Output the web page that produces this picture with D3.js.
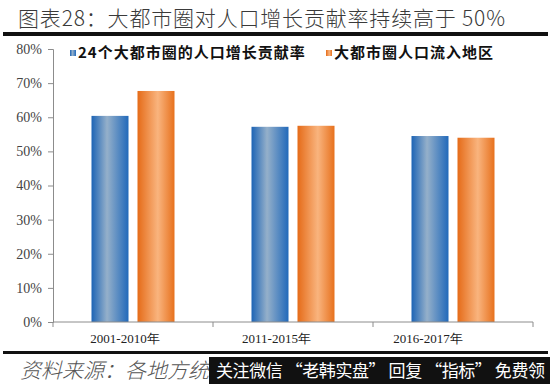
<!DOCTYPE html>
<html lang="zh">

<head>
  <meta charset="UTF-8">
  <title>图表28</title>
  <script src="https://d3js.org/d3.v7.min.js"></script>
  <style>
    html,
    body {
      padding: 0;
      margin: 0;
      background: #fff;
    }

    svg {
      display: block;
    }
  </style>
</head>

<body>
  <script>
    const width = 550;
    const height = 384;

    // data
    const categories = ["2001-2010年", "2011-2015年", "2016-2017年"];
    const seriesNames = ["24个大都市圈的人口增长贡献率", "大都市圈人口流入地区"];
    const contribution = [0.604, 0.572, 0.545];
    const inflowRegions = [0.677, 0.575, 0.540];
    const yTicks = [0, 0.1, 0.2, 0.3, 0.4, 0.5, 0.6, 0.7, 0.8];

    const series = [contribution, inflowRegions];

    const plot = { left: 53, right: 533, top: 49, bottom: 322 };

    const svg = d3.select("body").append("svg")
      .attr("width", width)
      .attr("height", height);

    // gradients for the bars
    const defs = svg.append("defs");
    const grads = [
      { id: "gBlue", stops: [["0%", "#1d64b5"], ["42%", "#95b0ca"], ["100%", "#2169ba"]] },
      { id: "gOrange", stops: [["0%", "#e56b18"], ["55%", "#f9b47e"], ["100%", "#e7711d"]] }
    ];
    grads.forEach(g => {
      const lg = defs.append("linearGradient").attr("id", g.id)
        .attr("x1", "0%").attr("x2", "100%").attr("y1", "0%").attr("y2", "0%");
      g.stops.forEach(s => lg.append("stop").attr("offset", s[0]).attr("stop-color", s[1]));
    });

    // title
    svg.append("text")
      .attr("x", 18)
      .attr("y", 26)
      .attr("font-family", "'Noto Sans CJK SC', sans-serif")
      .attr("font-size", 21)
      .attr("font-weight", 300)
      .attr("fill", "#3a3a3a")
      .attr("textLength", 487)
      .text("图表28：大都市圈对人口增长贡献率持续高于 50%");

    svg.append("rect").attr("x", 3).attr("y", 32).attr("width", 545).attr("height", 4).attr("fill", "#111");
    svg.append("rect").attr("x", 3).attr("y", 351).attr("width", 545).attr("height", 3).attr("fill", "#111");

    // scales
    const x0 = d3.scaleBand().domain(categories).range([plot.left, plot.right]).padding(0);
    const x1 = d3.scaleBand().domain(d3.range(series.length))
      .range([0, x0.bandwidth()]).paddingInner(0.1957).paddingOuter(0.837);
    const y = d3.scaleLinear().domain([0, 0.8]).range([plot.bottom, plot.top]);

    // y axis
    const yAxis = svg.append("g")
      .attr("transform", `translate(${plot.left},0)`)
      .call(d3.axisLeft(y).tickValues(yTicks).tickFormat(d3.format(".0%")).tickSize(5).tickPadding(6));
    yAxis.select(".domain").attr("stroke", "#8c8c8c");
    yAxis.selectAll(".tick line").attr("stroke", "#8c8c8c");
    yAxis.selectAll("text")
      .attr("font-family", "'Liberation Serif', serif")
      .attr("font-size", 14)
      .attr("fill", "#444");

    // bars
    const groups = svg.append("g").selectAll("g")
      .data(categories)
      .join("g")
      .attr("transform", d => `translate(${x0(d)},0)`);

    groups.selectAll("rect")
      .data((c, i) => series.map((s, k) => ({ k, v: s[i] })))
      .join("rect")
      .attr("x", d => x1(d.k))
      .attr("width", x1.bandwidth())
      .attr("y", d => y(d.v))
      .attr("height", d => y(0) - y(d.v))
      .attr("fill", d => `url(#${grads[d.k].id})`);

    // x axis with ticks at category boundaries
    const xAxis = svg.append("g").attr("transform", `translate(0,${plot.bottom})`);
    xAxis.append("line")
      .attr("x1", plot.left).attr("x2", plot.right)
      .attr("stroke", "#8c8c8c");
    const bounds = categories.map(c => x0(c)).concat([x0.range()[1]]);
    xAxis.selectAll("line.tk")
      .data(bounds)
      .join("line")
      .attr("class", "tk")
      .attr("x1", d => d).attr("x2", d => d)
      .attr("y1", 0).attr("y2", 5)
      .attr("stroke", "#8c8c8c");

    // category labels (sit a bit left of the band centres in the original)
    const labelX = d3.scalePoint().domain(categories).range([125, 428]);
    xAxis.selectAll("text")
      .data(categories)
      .join("text")
      .attr("x", d => labelX(d))
      .attr("y", 21)
      .attr("text-anchor", "middle")
      .attr("font-family", "'Liberation Serif', serif")
      .attr("font-size", 13)
      .attr("fill", "#222")
      .text(d => d);

    // legend
    const legendPos = [70, 326];
    const legend = svg.append("g").selectAll("g")
      .data(seriesNames)
      .join("g")
      .attr("transform", (d, i) => `translate(${legendPos[i]},49)`);
    legend.append("rect")
      .attr("width", 6).attr("height", 6).attr("y", 1)
      .attr("fill", (d, i) => `url(#${grads[i].id})`);
    legend.append("text")
      .attr("x", 8)
      .attr("y", 9)
      .attr("font-family", "'Noto Sans CJK SC', sans-serif")
      .attr("font-weight", "bold")
      .attr("font-size", 15)
      .attr("letter-spacing", 1)
      .attr("fill", "#111")
      .text(d => d);

    // source line and overlay strip
    svg.append("text")
      .attr("x", 20)
      .attr("y", 378)
      .attr("font-family", "'Noto Sans CJK SC', sans-serif")
      .attr("font-style", "italic")
      .attr("font-weight", 300)
      .attr("font-size", 21)
      .attr("fill", "#555")
      .text("资料来源：各地方统");

    svg.append("rect").attr("x", 209).attr("y", 357).attr("width", 341).attr("height", 27).attr("fill", "#111");
    svg.append("text")
      .attr("x", 216)
      .attr("y", 377)
      .attr("font-family", "'Noto Sans CJK SC', sans-serif")
      .attr("font-size", 17)
      .attr("fill", "#fff")
      .attr("textLength", 329)
      .text("关注微信 “老韩实盘” 回复 “指标” 免费领");
  </script>
</body>

</html>
